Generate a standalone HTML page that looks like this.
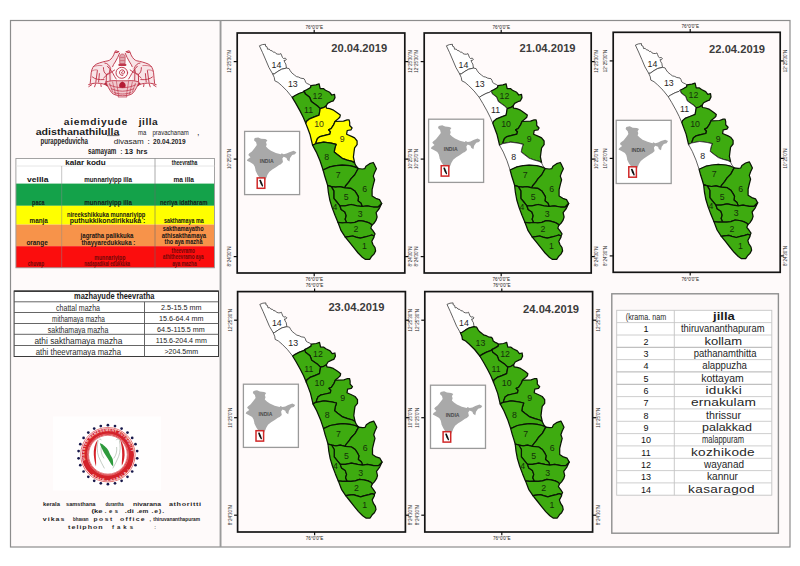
<!DOCTYPE html>
<html><head><meta charset="utf-8"><title>Kerala district rainfall forecast</title>
<style>
html,body{margin:0;padding:0;background:#fff;}
svg{display:block;font-family:"Liberation Sans",sans-serif;}
</style></head><body>
<svg width="800" height="566" viewBox="0 0 800 566">
<defs>
<polygon id="d1" points="108.1,204.1 111.3,203.6 115.6,203.0 118.7,204.1 123.0,205.2 127.2,204.1 131.5,203.0 134.6,202.0 136.8,203.0 136.8,204.1 134.6,208.3 135.7,211.5 137.8,214.7 138.4,217.9 136.8,221.1 134.6,223.2 132.5,226.4 128.3,226.4 125.1,224.2 120.9,220.0 116.6,214.7 112.4,209.4"/>
<polygon id="d2" points="100.7,189.3 105.0,189.8 109.5,189.5 113.4,189.8 117.7,189.3 121.9,187.7 126.2,188.2 130.4,189.3 133.6,190.9 134.6,192.4 133.6,195.1 135.7,197.7 137.8,200.9 136.8,203.0 134.6,202.0 131.5,203.0 127.2,204.1 123.0,205.2 118.7,204.1 115.6,203.0 111.3,203.6 108.1,204.1 103.9,197.7"/>
<polygon id="d3" points="102.7,172.8 107.7,172.8 113.9,171.5 120.0,172.8 125.0,173.5 129.9,172.8 136.1,174.0 141.0,174.0 144.5,170.5 142.1,175.5 138.9,179.7 139.9,184.0 138.9,187.1 136.8,190.3 134.6,192.4 133.6,190.9 130.4,189.3 126.2,188.2 121.9,187.7 117.7,189.3 113.4,189.8 109.5,189.5 108.0,186.2 109.0,182.8 107.7,179.0 104.0,176.5"/>
<polygon id="d4" points="90.4,152.4 94.1,153.6 96.6,157.9 96.6,165.3 99.6,169.0 102.7,172.8 104.0,176.5 107.7,179.0 109.0,182.8 108.0,186.2 109.5,189.5 105.0,189.8 100.7,189.3 97.8,182.3 94.9,174.6 92.6,167.0 91.2,159.5"/>
<polygon id="d5" points="107.7,154.8 113.9,155.4 117.6,157.9 120.0,161.6 121.3,164.1 120.7,167.8 123.8,170.3 125.0,173.5 120.0,172.8 113.9,171.5 107.7,172.8 102.7,172.8 99.6,169.0 96.6,165.3 96.6,157.9 94.1,153.6 98.4,154.2 102.7,153.6"/>
<polygon id="d6" points="121.0,135.5 125.0,136.0 127.5,135.7 128.7,133.2 132.4,130.7 136.1,129.5 137.4,131.9 139.2,135.7 137.4,139.4 136.1,143.1 137.4,146.8 136.1,151.7 134.9,156.7 134.9,162.9 138.6,165.3 142.3,166.6 144.5,170.5 141.0,174.0 136.1,174.0 129.9,172.8 125.0,173.5 123.8,170.3 120.7,167.8 121.3,164.1 120.0,161.6 117.6,157.9 113.9,155.4 107.7,154.8 108.3,153.0 111.4,149.3 113.9,145.6 117.6,141.8"/>
<polygon id="d7" points="85.9,137.0 92.7,133.9 98.9,132.7 105.0,132.1 112.5,132.7 117.4,133.9 121.0,135.5 117.6,141.8 113.9,145.6 111.4,149.3 108.3,153.0 107.7,154.8 102.7,153.6 98.4,154.2 94.1,153.6 90.4,152.4 89.1,148.0 87.5,143.0"/>
<polygon id="d8" points="75.4,112.3 78.5,110.7 86.5,109.2 93.9,110.2 98.9,111.4 97.6,115.4 97.0,119.1 100.1,121.6 105.0,125.3 110.0,127.1 114.9,128.4 117.4,129.9 118.7,132.7 121.0,135.5 117.4,133.9 112.5,132.7 105.0,132.1 98.9,132.7 92.7,133.9 85.9,137.0 82.8,127.8 79.1,119.1"/>
<polygon id="d9" points="97.8,88.5 106.3,88.2 110.0,86.9 111.9,86.9 112.5,89.4 112.5,92.5 114.9,95.0 113.7,96.8 110.0,97.5 109.4,101.2 114.9,103.6 117.4,104.9 119.9,108.0 119.9,111.7 117.4,114.8 116.8,119.1 116.2,124.0 117.4,129.6 114.9,128.4 110.0,127.1 105.0,125.3 100.1,121.6 97.0,119.1 97.6,115.4 98.9,111.4 93.9,110.2 86.5,109.2 78.5,110.7 79.1,108.6 80.3,105.5 82.8,103.6 87.7,102.4 92.7,101.2 93.3,98.7 91.4,96.8 93.9,95.6 96.4,91.9"/>
<polygon id="d10" points="68.7,90.6 69.2,88.5 72.4,85.8 76.6,84.2 81.9,82.1 83.0,75.6 86.2,74.7 88.8,73.1 89.3,75.2 92.5,75.7 95.7,76.8 98.9,78.9 101.0,80.5 103.1,82.1 102.6,84.2 101.0,85.8 98.9,87.4 97.8,88.5 96.4,91.9 93.9,95.6 91.4,96.8 93.3,98.7 92.7,101.2 87.7,102.4 82.8,103.6 80.3,105.5 79.1,108.6 78.5,110.7 75.4,112.3 72.9,101.8 70.3,94.8"/>
<polygon id="d11" points="55.0,64.4 57.5,62.8 61.8,60.5 66.0,59.0 67.0,58.0 67.9,60.7 72.4,64.2 74.1,68.6 80.3,73.0 83.0,75.6 81.9,82.1 76.6,84.2 72.4,85.8 69.2,88.5 68.7,90.6 66.0,84.2 62.8,77.9 58.6,70.4"/>
<polygon id="d12" points="67.0,58.0 70.0,56.5 73.4,54.5 73.7,52.6 78.7,51.9 81.9,50.8 83.0,55.6 86.2,55.6 88.3,57.2 92.5,59.3 94.6,62.0 97.3,61.4 97.8,64.6 96.2,67.8 94.6,68.3 90.4,70.4 88.8,73.1 86.2,74.7 83.0,75.6 80.3,73.0 74.1,68.6 72.4,64.2 67.9,60.7"/>
<polygon id="d13" points="35.5,41.0 37.1,40.9 40.8,38.3 44.5,36.2 49.3,35.1 51.9,35.6 53.0,37.7 54.6,39.9 57.2,42.0 59.3,43.6 61.5,44.1 63.6,45.2 66.8,45.7 67.8,47.3 68.4,49.4 69.9,50.5 72.1,51.5 73.7,52.6 73.4,54.5 70.0,56.5 67.0,58.0 66.0,59.0 61.8,60.5 57.5,62.8 55.0,64.4 49.8,57.9 44.5,52.6 40.8,49.4 37.6,47.8 37.1,44.6"/>
<polygon id="d14" points="22.2,12.8 25.2,11.6 28.3,11.3 28.3,13.2 29.8,13.8 30.4,16.3 32.0,16.0 33.2,17.5 35.0,17.8 36.3,19.3 37.5,19.0 38.8,20.6 40.6,21.2 42.5,21.2 43.7,20.6 44.3,22.1 45.3,24.5 46.2,25.5 48.0,25.2 49.2,26.1 48.3,27.4 46.8,27.4 47.6,29.5 48.6,31.0 49.3,35.1 44.5,36.2 40.8,38.3 37.1,40.9 35.5,41.0 31.8,34.6 28.6,27.1 25.4,19.7"/>
<polygon id="india" points="10.1,6.7 13.6,6.0 16.5,7.4 20.7,7.7 22.8,8.8 21.4,10.9 22.1,13.0 21.4,15.2 23.5,17.3 26.4,19.4 31.3,21.5 36.3,22.9 37.0,21.9 39.1,22.9 41.9,22.2 44.8,20.8 49.0,19.4 51.8,20.8 50.4,22.9 47.6,23.6 45.5,26.5 44.8,30.0 42.6,28.6 41.9,26.5 39.1,25.4 37.7,27.2 38.4,30.7 36.3,32.8 34.5,33.6 31.4,35.8 27.7,38.1 24.6,40.6 22.7,43.7 22.1,45.5 19.0,52.0 17.5,55.0 15.3,46.8 12.8,43.1 11.0,39.4 10.8,37.8 10.1,35.0 8.7,32.8 5.2,30.7 2.3,29.3 3.0,27.9 5.9,25.8 3.7,23.6 4.5,22.2 7.3,20.1 10.1,16.6 12.2,13.7 11.5,10.9 9.4,8.8"/>
</defs>
<rect x="0" y="0" width="800" height="566" fill="#ffffff"/>
<rect x="10.5" y="20.5" width="779.5" height="526.5" fill="#fefafa" stroke="#8c8c8c" stroke-width="1.2"/>
<rect x="219.6" y="20.5" width="1.9" height="526.5" fill="#9a9a9a"/>
<!-- map 20.04.2019 -->
<rect x="237.2" y="33.0" width="167.6" height="240.0" fill="#fffafa" stroke="#141414" stroke-width="1.7"/>
<line x1="314.2" y1="29.8" x2="314.2" y2="33.0" stroke="#111" stroke-width="1.2"/>
<line x1="314.2" y1="273.0" x2="314.2" y2="276.2" stroke="#111" stroke-width="1.2"/>
<text x="314.2" y="28.5" font-size="4.6" fill="#222" text-anchor="middle">76°0'0"E</text>
<text x="314.2" y="281.3" font-size="4.6" fill="#222" text-anchor="middle">76°0'0"E</text>
<line x1="233.7" y1="61.6" x2="237.2" y2="61.6" stroke="#111" stroke-width="1.2"/>
<line x1="404.8" y1="61.6" x2="408.3" y2="61.6" stroke="#111" stroke-width="1.2"/>
<text transform="translate(231.4,61.6) rotate(-90)" font-size="4.5" fill="#2a2a2a" text-anchor="middle">12°25'30"N</text>
<text transform="translate(411.8,61.6) rotate(-90)" font-size="4.5" fill="#2a2a2a" text-anchor="middle">12°25'30"N</text>
<line x1="233.7" y1="159.1" x2="237.2" y2="159.1" stroke="#111" stroke-width="1.2"/>
<line x1="404.8" y1="159.1" x2="408.3" y2="159.1" stroke="#111" stroke-width="1.2"/>
<text transform="translate(231.4,159.1) rotate(-90)" font-size="4.5" fill="#2a2a2a" text-anchor="middle">10°25'0"N</text>
<text transform="translate(411.8,159.1) rotate(-90)" font-size="4.5" fill="#2a2a2a" text-anchor="middle">10°25'0"N</text>
<line x1="233.7" y1="256.6" x2="237.2" y2="256.6" stroke="#111" stroke-width="1.2"/>
<line x1="404.8" y1="256.6" x2="408.3" y2="256.6" stroke="#111" stroke-width="1.2"/>
<text transform="translate(231.4,256.6) rotate(-90)" font-size="4.5" fill="#2a2a2a" text-anchor="middle">8°24'30"N</text>
<text transform="translate(411.8,256.6) rotate(-90)" font-size="4.5" fill="#2a2a2a" text-anchor="middle">8°24'30"N</text>
<g transform="translate(237.2,33.0)">
<text x="94.0" y="18.8" font-size="11.3" font-weight="bold" fill="#3c3c3c" textLength="56" lengthAdjust="spacingAndGlyphs">20.04.2019</text>
<use href="#d14" fill="#ffffff" stroke="#3a3a3a" stroke-width="0.8" stroke-linejoin="round"/>
<use href="#d13" fill="#ffffff" stroke="#3a3a3a" stroke-width="0.8" stroke-linejoin="round"/>
<use href="#d12" fill="#3eab10" stroke="#0a1505" stroke-width="1.25" stroke-linejoin="round"/>
<use href="#d11" fill="#3eab10" stroke="#0a1505" stroke-width="1.25" stroke-linejoin="round"/>
<use href="#d10" fill="#ffff00" stroke="#0a1505" stroke-width="1.25" stroke-linejoin="round"/>
<use href="#d9" fill="#ffff00" stroke="#0a1505" stroke-width="1.25" stroke-linejoin="round"/>
<use href="#d8" fill="#3eab10" stroke="#0a1505" stroke-width="1.25" stroke-linejoin="round"/>
<use href="#d7" fill="#3eab10" stroke="#0a1505" stroke-width="1.25" stroke-linejoin="round"/>
<use href="#d6" fill="#3eab10" stroke="#0a1505" stroke-width="1.25" stroke-linejoin="round"/>
<use href="#d5" fill="#3eab10" stroke="#0a1505" stroke-width="1.25" stroke-linejoin="round"/>
<use href="#d4" fill="#3eab10" stroke="#0a1505" stroke-width="1.25" stroke-linejoin="round"/>
<use href="#d3" fill="#3eab10" stroke="#0a1505" stroke-width="1.25" stroke-linejoin="round"/>
<use href="#d2" fill="#3eab10" stroke="#0a1505" stroke-width="1.25" stroke-linejoin="round"/>
<use href="#d1" fill="#3eab10" stroke="#0a1505" stroke-width="1.25" stroke-linejoin="round"/>
<text x="39.2" y="34.6" font-size="8.8" fill="#1e1e1e" text-anchor="middle">14</text>
<text x="55.6" y="54.2" font-size="8.8" fill="#1e1e1e" text-anchor="middle">13</text>
<text x="80.3" y="65.7" font-size="8.8" fill="#14300a" text-anchor="middle">12</text>
<text x="71.3" y="80.0" font-size="8.8" fill="#14300a" text-anchor="middle">11</text>
<text x="81.9" y="94.3" font-size="8.8" fill="#3a3a10" text-anchor="middle">10</text>
<text x="105.0" y="109.3" font-size="8.8" fill="#3a3a10" text-anchor="middle">9</text>
<text x="89.6" y="126.6" font-size="8.8" fill="#14300a" text-anchor="middle">8</text>
<text x="100.9" y="145.0" font-size="8.8" fill="#14300a" text-anchor="middle">7</text>
<text x="127.5" y="159.3" font-size="8.8" fill="#14300a" text-anchor="middle">6</text>
<text x="108.9" y="167.3" font-size="8.8" fill="#14300a" text-anchor="middle">5</text>
<text x="97.8" y="177.2" font-size="8.8" fill="#14300a" text-anchor="middle">4</text>
<text x="123.0" y="184.0" font-size="8.8" fill="#14300a" text-anchor="middle">3</text>
<text x="118.8" y="199.4" font-size="8.8" fill="#14300a" text-anchor="middle">2</text>
<text x="127.2" y="216.3" font-size="8.8" fill="#14300a" text-anchor="middle">1</text>
<g transform="translate(7.4,98.4)">
<rect x="0" y="0" width="55" height="63.2" fill="#ffffff" stroke="#9a9a9a" stroke-width="1.3"/>
<use href="#india" fill="#a9a9a9"/>
<text x="15.2" y="32.1" font-size="5" font-weight="bold" fill="#4a4a4a" textLength="13.8" lengthAdjust="spacingAndGlyphs">INDIA</text>
<rect x="12.6" y="46.5" width="7.6" height="10.4" fill="#ffffff" stroke="#d02828" stroke-width="1.5"/>
<path d="M14.6,48.6 L16.2,48.4 L17.6,51.5 L18.6,54.6 L17.7,55.4 L15.9,52.4 Z" fill="#111"/>
</g>
</g>
<!-- map 21.04.2019 -->
<rect x="424.2" y="33.0" width="167.0" height="240.0" fill="#fffafa" stroke="#141414" stroke-width="1.7"/>
<line x1="501.2" y1="29.8" x2="501.2" y2="33.0" stroke="#111" stroke-width="1.2"/>
<line x1="501.2" y1="273.0" x2="501.2" y2="276.2" stroke="#111" stroke-width="1.2"/>
<text x="501.2" y="28.5" font-size="4.6" fill="#222" text-anchor="middle">76°0'0"E</text>
<text x="501.2" y="281.3" font-size="4.6" fill="#222" text-anchor="middle">76°0'0"E</text>
<line x1="420.7" y1="61.6" x2="424.2" y2="61.6" stroke="#111" stroke-width="1.2"/>
<line x1="591.2" y1="61.6" x2="594.7" y2="61.6" stroke="#111" stroke-width="1.2"/>
<text transform="translate(418.4,61.6) rotate(-90)" font-size="4.5" fill="#2a2a2a" text-anchor="middle">12°25'30"N</text>
<text transform="translate(598.2,61.6) rotate(-90)" font-size="4.5" fill="#2a2a2a" text-anchor="middle">12°25'30"N</text>
<line x1="420.7" y1="159.1" x2="424.2" y2="159.1" stroke="#111" stroke-width="1.2"/>
<line x1="591.2" y1="159.1" x2="594.7" y2="159.1" stroke="#111" stroke-width="1.2"/>
<text transform="translate(418.4,159.1) rotate(-90)" font-size="4.5" fill="#2a2a2a" text-anchor="middle">10°25'0"N</text>
<text transform="translate(598.2,159.1) rotate(-90)" font-size="4.5" fill="#2a2a2a" text-anchor="middle">10°25'0"N</text>
<line x1="420.7" y1="256.6" x2="424.2" y2="256.6" stroke="#111" stroke-width="1.2"/>
<line x1="591.2" y1="256.6" x2="594.7" y2="256.6" stroke="#111" stroke-width="1.2"/>
<text transform="translate(418.4,256.6) rotate(-90)" font-size="4.5" fill="#2a2a2a" text-anchor="middle">8°24'30"N</text>
<text transform="translate(598.2,256.6) rotate(-90)" font-size="4.5" fill="#2a2a2a" text-anchor="middle">8°24'30"N</text>
<g transform="translate(424.2,33.0)">
<text x="95.4" y="19.3" font-size="11.3" font-weight="bold" fill="#3c3c3c" textLength="56" lengthAdjust="spacingAndGlyphs">21.04.2019</text>
<use href="#d14" fill="#ffffff" stroke="#3a3a3a" stroke-width="0.8" stroke-linejoin="round"/>
<use href="#d13" fill="#ffffff" stroke="#3a3a3a" stroke-width="0.8" stroke-linejoin="round"/>
<use href="#d12" fill="#3eab10" stroke="#0a1505" stroke-width="1.25" stroke-linejoin="round"/>
<use href="#d11" fill="#ffffff" stroke="#3a3a3a" stroke-width="0.8" stroke-linejoin="round"/>
<use href="#d10" fill="#3eab10" stroke="#0a1505" stroke-width="1.25" stroke-linejoin="round"/>
<use href="#d9" fill="#3eab10" stroke="#0a1505" stroke-width="1.25" stroke-linejoin="round"/>
<use href="#d8" fill="#ffffff" stroke="#3a3a3a" stroke-width="0.8" stroke-linejoin="round"/>
<use href="#d7" fill="#3eab10" stroke="#0a1505" stroke-width="1.25" stroke-linejoin="round"/>
<use href="#d6" fill="#3eab10" stroke="#0a1505" stroke-width="1.25" stroke-linejoin="round"/>
<use href="#d5" fill="#3eab10" stroke="#0a1505" stroke-width="1.25" stroke-linejoin="round"/>
<use href="#d4" fill="#3eab10" stroke="#0a1505" stroke-width="1.25" stroke-linejoin="round"/>
<use href="#d3" fill="#3eab10" stroke="#0a1505" stroke-width="1.25" stroke-linejoin="round"/>
<use href="#d2" fill="#3eab10" stroke="#0a1505" stroke-width="1.25" stroke-linejoin="round"/>
<use href="#d1" fill="#3eab10" stroke="#0a1505" stroke-width="1.25" stroke-linejoin="round"/>
<text x="39.2" y="34.6" font-size="8.8" fill="#1e1e1e" text-anchor="middle">14</text>
<text x="55.6" y="54.2" font-size="8.8" fill="#1e1e1e" text-anchor="middle">13</text>
<text x="80.3" y="65.7" font-size="8.8" fill="#14300a" text-anchor="middle">12</text>
<text x="71.3" y="80.0" font-size="8.8" fill="#1e1e1e" text-anchor="middle">11</text>
<text x="81.9" y="94.3" font-size="8.8" fill="#14300a" text-anchor="middle">10</text>
<text x="105.0" y="109.3" font-size="8.8" fill="#14300a" text-anchor="middle">9</text>
<text x="89.6" y="126.6" font-size="8.8" fill="#1e1e1e" text-anchor="middle">8</text>
<text x="100.9" y="145.0" font-size="8.8" fill="#14300a" text-anchor="middle">7</text>
<text x="127.5" y="159.3" font-size="8.8" fill="#14300a" text-anchor="middle">6</text>
<text x="108.9" y="167.3" font-size="8.8" fill="#14300a" text-anchor="middle">5</text>
<text x="97.8" y="177.2" font-size="8.8" fill="#14300a" text-anchor="middle">4</text>
<text x="123.0" y="184.0" font-size="8.8" fill="#14300a" text-anchor="middle">3</text>
<text x="118.8" y="199.4" font-size="8.8" fill="#14300a" text-anchor="middle">2</text>
<text x="127.2" y="216.3" font-size="8.8" fill="#14300a" text-anchor="middle">1</text>
<g transform="translate(4.4,86.2)">
<rect x="0" y="0" width="55" height="63.2" fill="#ffffff" stroke="#9a9a9a" stroke-width="1.3"/>
<use href="#india" fill="#a9a9a9"/>
<text x="15.2" y="32.1" font-size="5" font-weight="bold" fill="#4a4a4a" textLength="13.8" lengthAdjust="spacingAndGlyphs">INDIA</text>
<rect x="12.6" y="46.5" width="7.6" height="10.4" fill="#ffffff" stroke="#d02828" stroke-width="1.5"/>
<path d="M14.6,48.6 L16.2,48.4 L17.6,51.5 L18.6,54.6 L17.7,55.4 L15.9,52.4 Z" fill="#111"/>
</g>
</g>
<!-- map 22.04.2019 -->
<rect x="613.2" y="32.3" width="167.0" height="240.0" fill="#fffafa" stroke="#141414" stroke-width="1.7"/>
<line x1="690.2" y1="29.1" x2="690.2" y2="32.3" stroke="#111" stroke-width="1.2"/>
<line x1="690.2" y1="272.3" x2="690.2" y2="275.5" stroke="#111" stroke-width="1.2"/>
<text x="690.2" y="27.8" font-size="4.6" fill="#222" text-anchor="middle">76°0'0"E</text>
<text x="690.2" y="280.6" font-size="4.6" fill="#222" text-anchor="middle">76°0'0"E</text>
<line x1="609.7" y1="60.9" x2="613.2" y2="60.9" stroke="#111" stroke-width="1.2"/>
<line x1="780.2" y1="60.9" x2="783.7" y2="60.9" stroke="#111" stroke-width="1.2"/>
<text transform="translate(607.4,60.9) rotate(-90)" font-size="4.5" fill="#2a2a2a" text-anchor="middle">12°25'30"N</text>
<text transform="translate(787.2,60.9) rotate(-90)" font-size="4.5" fill="#2a2a2a" text-anchor="middle">12°25'30"N</text>
<line x1="609.7" y1="158.4" x2="613.2" y2="158.4" stroke="#111" stroke-width="1.2"/>
<line x1="780.2" y1="158.4" x2="783.7" y2="158.4" stroke="#111" stroke-width="1.2"/>
<text transform="translate(607.4,158.4) rotate(-90)" font-size="4.5" fill="#2a2a2a" text-anchor="middle">10°25'0"N</text>
<text transform="translate(787.2,158.4) rotate(-90)" font-size="4.5" fill="#2a2a2a" text-anchor="middle">10°25'0"N</text>
<line x1="609.7" y1="255.9" x2="613.2" y2="255.9" stroke="#111" stroke-width="1.2"/>
<line x1="780.2" y1="255.9" x2="783.7" y2="255.9" stroke="#111" stroke-width="1.2"/>
<text transform="translate(607.4,255.9) rotate(-90)" font-size="4.5" fill="#2a2a2a" text-anchor="middle">8°24'30"N</text>
<text transform="translate(787.2,255.9) rotate(-90)" font-size="4.5" fill="#2a2a2a" text-anchor="middle">8°24'30"N</text>
<g transform="translate(613.2,32.3)">
<text x="95.9" y="21.0" font-size="11.3" font-weight="bold" fill="#3c3c3c" textLength="56" lengthAdjust="spacingAndGlyphs">22.04.2019</text>
<use href="#d14" fill="#ffffff" stroke="#3a3a3a" stroke-width="0.8" stroke-linejoin="round"/>
<use href="#d13" fill="#ffffff" stroke="#3a3a3a" stroke-width="0.8" stroke-linejoin="round"/>
<use href="#d12" fill="#3eab10" stroke="#0a1505" stroke-width="1.25" stroke-linejoin="round"/>
<use href="#d11" fill="#ffffff" stroke="#3a3a3a" stroke-width="0.8" stroke-linejoin="round"/>
<use href="#d10" fill="#3eab10" stroke="#0a1505" stroke-width="1.25" stroke-linejoin="round"/>
<use href="#d9" fill="#3eab10" stroke="#0a1505" stroke-width="1.25" stroke-linejoin="round"/>
<use href="#d8" fill="#ffffff" stroke="#3a3a3a" stroke-width="0.8" stroke-linejoin="round"/>
<use href="#d7" fill="#3eab10" stroke="#0a1505" stroke-width="1.25" stroke-linejoin="round"/>
<use href="#d6" fill="#3eab10" stroke="#0a1505" stroke-width="1.25" stroke-linejoin="round"/>
<use href="#d5" fill="#3eab10" stroke="#0a1505" stroke-width="1.25" stroke-linejoin="round"/>
<use href="#d4" fill="#3eab10" stroke="#0a1505" stroke-width="1.25" stroke-linejoin="round"/>
<use href="#d3" fill="#3eab10" stroke="#0a1505" stroke-width="1.25" stroke-linejoin="round"/>
<use href="#d2" fill="#3eab10" stroke="#0a1505" stroke-width="1.25" stroke-linejoin="round"/>
<use href="#d1" fill="#3eab10" stroke="#0a1505" stroke-width="1.25" stroke-linejoin="round"/>
<text x="39.2" y="34.6" font-size="8.8" fill="#1e1e1e" text-anchor="middle">14</text>
<text x="55.6" y="54.2" font-size="8.8" fill="#1e1e1e" text-anchor="middle">13</text>
<text x="80.3" y="65.7" font-size="8.8" fill="#14300a" text-anchor="middle">12</text>
<text x="71.3" y="80.0" font-size="8.8" fill="#1e1e1e" text-anchor="middle">11</text>
<text x="81.9" y="94.3" font-size="8.8" fill="#14300a" text-anchor="middle">10</text>
<text x="105.0" y="109.3" font-size="8.8" fill="#14300a" text-anchor="middle">9</text>
<text x="89.6" y="126.6" font-size="8.8" fill="#1e1e1e" text-anchor="middle">8</text>
<text x="100.9" y="145.0" font-size="8.8" fill="#14300a" text-anchor="middle">7</text>
<text x="127.5" y="159.3" font-size="8.8" fill="#14300a" text-anchor="middle">6</text>
<text x="108.9" y="167.3" font-size="8.8" fill="#14300a" text-anchor="middle">5</text>
<text x="97.8" y="177.2" font-size="8.8" fill="#14300a" text-anchor="middle">4</text>
<text x="123.0" y="184.0" font-size="8.8" fill="#14300a" text-anchor="middle">3</text>
<text x="118.8" y="199.4" font-size="8.8" fill="#14300a" text-anchor="middle">2</text>
<text x="127.2" y="216.3" font-size="8.8" fill="#14300a" text-anchor="middle">1</text>
<g transform="translate(3.0,88.0)">
<rect x="0" y="0" width="55" height="63.2" fill="#ffffff" stroke="#9a9a9a" stroke-width="1.3"/>
<use href="#india" fill="#a9a9a9"/>
<text x="15.2" y="32.1" font-size="5" font-weight="bold" fill="#4a4a4a" textLength="13.8" lengthAdjust="spacingAndGlyphs">INDIA</text>
<rect x="12.6" y="46.5" width="7.6" height="10.4" fill="#ffffff" stroke="#d02828" stroke-width="1.5"/>
<path d="M14.6,48.6 L16.2,48.4 L17.6,51.5 L18.6,54.6 L17.7,55.4 L15.9,52.4 Z" fill="#111"/>
</g>
</g>
<!-- map 23.04.2019 -->
<rect x="237.6" y="291.6" width="167.8" height="240.4" fill="#fffafa" stroke="#141414" stroke-width="1.7"/>
<line x1="314.6" y1="288.4" x2="314.6" y2="291.6" stroke="#111" stroke-width="1.2"/>
<line x1="314.6" y1="532.0" x2="314.6" y2="535.2" stroke="#111" stroke-width="1.2"/>
<text x="314.6" y="287.1" font-size="4.6" fill="#222" text-anchor="middle">76°0'0"E</text>
<text x="314.6" y="540.3" font-size="4.6" fill="#222" text-anchor="middle">76°0'0"E</text>
<line x1="234.1" y1="320.2" x2="237.6" y2="320.2" stroke="#111" stroke-width="1.2"/>
<line x1="405.4" y1="320.2" x2="408.9" y2="320.2" stroke="#111" stroke-width="1.2"/>
<text transform="translate(231.8,320.2) rotate(-90)" font-size="4.5" fill="#2a2a2a" text-anchor="middle">12°25'30"N</text>
<text transform="translate(412.4,320.2) rotate(-90)" font-size="4.5" fill="#2a2a2a" text-anchor="middle">12°25'30"N</text>
<line x1="234.1" y1="417.7" x2="237.6" y2="417.7" stroke="#111" stroke-width="1.2"/>
<line x1="405.4" y1="417.7" x2="408.9" y2="417.7" stroke="#111" stroke-width="1.2"/>
<text transform="translate(231.8,417.7) rotate(-90)" font-size="4.5" fill="#2a2a2a" text-anchor="middle">10°25'0"N</text>
<text transform="translate(412.4,417.7) rotate(-90)" font-size="4.5" fill="#2a2a2a" text-anchor="middle">10°25'0"N</text>
<line x1="234.1" y1="515.2" x2="237.6" y2="515.2" stroke="#111" stroke-width="1.2"/>
<line x1="405.4" y1="515.2" x2="408.9" y2="515.2" stroke="#111" stroke-width="1.2"/>
<text transform="translate(231.8,515.2) rotate(-90)" font-size="4.5" fill="#2a2a2a" text-anchor="middle">8°24'30"N</text>
<text transform="translate(412.4,515.2) rotate(-90)" font-size="4.5" fill="#2a2a2a" text-anchor="middle">8°24'30"N</text>
<g transform="translate(237.6,291.6)">
<text x="90.8" y="19.3" font-size="11.3" font-weight="bold" fill="#3c3c3c" textLength="56" lengthAdjust="spacingAndGlyphs">23.04.2019</text>
<use href="#d14" fill="#ffffff" stroke="#3a3a3a" stroke-width="0.8" stroke-linejoin="round"/>
<use href="#d13" fill="#ffffff" stroke="#3a3a3a" stroke-width="0.8" stroke-linejoin="round"/>
<use href="#d12" fill="#3eab10" stroke="#0a1505" stroke-width="1.25" stroke-linejoin="round"/>
<use href="#d11" fill="#3eab10" stroke="#0a1505" stroke-width="1.25" stroke-linejoin="round"/>
<use href="#d10" fill="#3eab10" stroke="#0a1505" stroke-width="1.25" stroke-linejoin="round"/>
<use href="#d9" fill="#3eab10" stroke="#0a1505" stroke-width="1.25" stroke-linejoin="round"/>
<use href="#d8" fill="#3eab10" stroke="#0a1505" stroke-width="1.25" stroke-linejoin="round"/>
<use href="#d7" fill="#3eab10" stroke="#0a1505" stroke-width="1.25" stroke-linejoin="round"/>
<use href="#d6" fill="#3eab10" stroke="#0a1505" stroke-width="1.25" stroke-linejoin="round"/>
<use href="#d5" fill="#3eab10" stroke="#0a1505" stroke-width="1.25" stroke-linejoin="round"/>
<use href="#d4" fill="#3eab10" stroke="#0a1505" stroke-width="1.25" stroke-linejoin="round"/>
<use href="#d3" fill="#3eab10" stroke="#0a1505" stroke-width="1.25" stroke-linejoin="round"/>
<use href="#d2" fill="#3eab10" stroke="#0a1505" stroke-width="1.25" stroke-linejoin="round"/>
<use href="#d1" fill="#3eab10" stroke="#0a1505" stroke-width="1.25" stroke-linejoin="round"/>
<text x="39.2" y="34.6" font-size="8.8" fill="#1e1e1e" text-anchor="middle">14</text>
<text x="55.6" y="54.2" font-size="8.8" fill="#1e1e1e" text-anchor="middle">13</text>
<text x="80.3" y="65.7" font-size="8.8" fill="#14300a" text-anchor="middle">12</text>
<text x="71.3" y="80.0" font-size="8.8" fill="#14300a" text-anchor="middle">11</text>
<text x="81.9" y="94.3" font-size="8.8" fill="#14300a" text-anchor="middle">10</text>
<text x="105.0" y="109.3" font-size="8.8" fill="#14300a" text-anchor="middle">9</text>
<text x="89.6" y="126.6" font-size="8.8" fill="#14300a" text-anchor="middle">8</text>
<text x="100.9" y="145.0" font-size="8.8" fill="#14300a" text-anchor="middle">7</text>
<text x="127.5" y="159.3" font-size="8.8" fill="#14300a" text-anchor="middle">6</text>
<text x="108.9" y="167.3" font-size="8.8" fill="#14300a" text-anchor="middle">5</text>
<text x="97.8" y="177.2" font-size="8.8" fill="#14300a" text-anchor="middle">4</text>
<text x="123.0" y="184.0" font-size="8.8" fill="#14300a" text-anchor="middle">3</text>
<text x="118.8" y="199.4" font-size="8.8" fill="#14300a" text-anchor="middle">2</text>
<text x="127.2" y="216.3" font-size="8.8" fill="#14300a" text-anchor="middle">1</text>
<g transform="translate(5.8,92.6)">
<rect x="0" y="0" width="55" height="63.2" fill="#ffffff" stroke="#9a9a9a" stroke-width="1.3"/>
<use href="#india" fill="#a9a9a9"/>
<text x="15.2" y="32.1" font-size="5" font-weight="bold" fill="#4a4a4a" textLength="13.8" lengthAdjust="spacingAndGlyphs">INDIA</text>
<rect x="12.6" y="46.5" width="7.6" height="10.4" fill="#ffffff" stroke="#d02828" stroke-width="1.5"/>
<path d="M14.6,48.6 L16.2,48.4 L17.6,51.5 L18.6,54.6 L17.7,55.4 L15.9,52.4 Z" fill="#111"/>
</g>
</g>
<!-- map 24.04.2019 -->
<rect x="424.8" y="291.6" width="167.8" height="240.4" fill="#fffafa" stroke="#141414" stroke-width="1.7"/>
<line x1="501.8" y1="288.4" x2="501.8" y2="291.6" stroke="#111" stroke-width="1.2"/>
<line x1="501.8" y1="532.0" x2="501.8" y2="535.2" stroke="#111" stroke-width="1.2"/>
<text x="501.8" y="287.1" font-size="4.6" fill="#222" text-anchor="middle">76°0'0"E</text>
<text x="501.8" y="540.3" font-size="4.6" fill="#222" text-anchor="middle">76°0'0"E</text>
<line x1="421.3" y1="320.2" x2="424.8" y2="320.2" stroke="#111" stroke-width="1.2"/>
<line x1="592.6" y1="320.2" x2="596.1" y2="320.2" stroke="#111" stroke-width="1.2"/>
<text transform="translate(419.0,320.2) rotate(-90)" font-size="4.5" fill="#2a2a2a" text-anchor="middle">12°25'30"N</text>
<text transform="translate(599.6,320.2) rotate(-90)" font-size="4.5" fill="#2a2a2a" text-anchor="middle">12°25'30"N</text>
<line x1="421.3" y1="417.7" x2="424.8" y2="417.7" stroke="#111" stroke-width="1.2"/>
<line x1="592.6" y1="417.7" x2="596.1" y2="417.7" stroke="#111" stroke-width="1.2"/>
<text transform="translate(419.0,417.7) rotate(-90)" font-size="4.5" fill="#2a2a2a" text-anchor="middle">10°25'0"N</text>
<text transform="translate(599.6,417.7) rotate(-90)" font-size="4.5" fill="#2a2a2a" text-anchor="middle">10°25'0"N</text>
<line x1="421.3" y1="515.2" x2="424.8" y2="515.2" stroke="#111" stroke-width="1.2"/>
<line x1="592.6" y1="515.2" x2="596.1" y2="515.2" stroke="#111" stroke-width="1.2"/>
<text transform="translate(419.0,515.2) rotate(-90)" font-size="4.5" fill="#2a2a2a" text-anchor="middle">8°24'30"N</text>
<text transform="translate(599.6,515.2) rotate(-90)" font-size="4.5" fill="#2a2a2a" text-anchor="middle">8°24'30"N</text>
<g transform="translate(424.8,291.6)">
<text x="98.3" y="21.3" font-size="11.3" font-weight="bold" fill="#3c3c3c" textLength="56" lengthAdjust="spacingAndGlyphs">24.04.2019</text>
<use href="#d14" fill="#ffffff" stroke="#3a3a3a" stroke-width="0.8" stroke-linejoin="round"/>
<use href="#d13" fill="#3eab10" stroke="#0a1505" stroke-width="1.25" stroke-linejoin="round"/>
<use href="#d12" fill="#3eab10" stroke="#0a1505" stroke-width="1.25" stroke-linejoin="round"/>
<use href="#d11" fill="#3eab10" stroke="#0a1505" stroke-width="1.25" stroke-linejoin="round"/>
<use href="#d10" fill="#3eab10" stroke="#0a1505" stroke-width="1.25" stroke-linejoin="round"/>
<use href="#d9" fill="#3eab10" stroke="#0a1505" stroke-width="1.25" stroke-linejoin="round"/>
<use href="#d8" fill="#3eab10" stroke="#0a1505" stroke-width="1.25" stroke-linejoin="round"/>
<use href="#d7" fill="#3eab10" stroke="#0a1505" stroke-width="1.25" stroke-linejoin="round"/>
<use href="#d6" fill="#3eab10" stroke="#0a1505" stroke-width="1.25" stroke-linejoin="round"/>
<use href="#d5" fill="#3eab10" stroke="#0a1505" stroke-width="1.25" stroke-linejoin="round"/>
<use href="#d4" fill="#3eab10" stroke="#0a1505" stroke-width="1.25" stroke-linejoin="round"/>
<use href="#d3" fill="#3eab10" stroke="#0a1505" stroke-width="1.25" stroke-linejoin="round"/>
<use href="#d2" fill="#3eab10" stroke="#0a1505" stroke-width="1.25" stroke-linejoin="round"/>
<use href="#d1" fill="#3eab10" stroke="#0a1505" stroke-width="1.25" stroke-linejoin="round"/>
<text x="39.2" y="34.6" font-size="8.8" fill="#1e1e1e" text-anchor="middle">14</text>
<text x="55.6" y="54.2" font-size="8.8" fill="#14300a" text-anchor="middle">13</text>
<text x="80.3" y="65.7" font-size="8.8" fill="#14300a" text-anchor="middle">12</text>
<text x="71.3" y="80.0" font-size="8.8" fill="#14300a" text-anchor="middle">11</text>
<text x="81.9" y="94.3" font-size="8.8" fill="#14300a" text-anchor="middle">10</text>
<text x="105.0" y="109.3" font-size="8.8" fill="#14300a" text-anchor="middle">9</text>
<text x="89.6" y="126.6" font-size="8.8" fill="#14300a" text-anchor="middle">8</text>
<text x="100.9" y="145.0" font-size="8.8" fill="#14300a" text-anchor="middle">7</text>
<text x="127.5" y="159.3" font-size="8.8" fill="#14300a" text-anchor="middle">6</text>
<text x="108.9" y="167.3" font-size="8.8" fill="#14300a" text-anchor="middle">5</text>
<text x="97.8" y="177.2" font-size="8.8" fill="#14300a" text-anchor="middle">4</text>
<text x="123.0" y="184.0" font-size="8.8" fill="#14300a" text-anchor="middle">3</text>
<text x="118.8" y="199.4" font-size="8.8" fill="#14300a" text-anchor="middle">2</text>
<text x="127.2" y="216.3" font-size="8.8" fill="#14300a" text-anchor="middle">1</text>
<g transform="translate(5.7,93.6)">
<rect x="0" y="0" width="55" height="63.2" fill="#ffffff" stroke="#9a9a9a" stroke-width="1.3"/>
<use href="#india" fill="#a9a9a9"/>
<text x="15.2" y="32.1" font-size="5" font-weight="bold" fill="#4a4a4a" textLength="13.8" lengthAdjust="spacingAndGlyphs">INDIA</text>
<rect x="12.6" y="46.5" width="7.6" height="10.4" fill="#ffffff" stroke="#d02828" stroke-width="1.5"/>
<path d="M14.6,48.6 L16.2,48.4 L17.6,51.5 L18.6,54.6 L17.7,55.4 L15.9,52.4 Z" fill="#111"/>
</g>
</g>
<rect x="611.8" y="293.8" width="166.6" height="239.4" fill="#fdf9f9" stroke="#8e8e8e" stroke-width="1.4"/>
<rect x="616.7" y="310.3" width="155.1" height="184.9" fill="#ffffff" stroke="#c4c4c4" stroke-width="0.9"/>
<line x1="616.7" y1="322.6" x2="771.8" y2="322.6" stroke="#c8c8c8" stroke-width="0.9"/>
<line x1="616.7" y1="335.0" x2="771.8" y2="335.0" stroke="#c8c8c8" stroke-width="0.9"/>
<line x1="616.7" y1="347.3" x2="771.8" y2="347.3" stroke="#a8a8a8" stroke-width="0.9"/>
<line x1="616.7" y1="359.6" x2="771.8" y2="359.6" stroke="#c8c8c8" stroke-width="0.9"/>
<line x1="616.7" y1="371.9" x2="771.8" y2="371.9" stroke="#a8a8a8" stroke-width="0.9"/>
<line x1="616.7" y1="384.3" x2="771.8" y2="384.3" stroke="#a8a8a8" stroke-width="0.9"/>
<line x1="616.7" y1="396.6" x2="771.8" y2="396.6" stroke="#c8c8c8" stroke-width="0.9"/>
<line x1="616.7" y1="408.9" x2="771.8" y2="408.9" stroke="#c8c8c8" stroke-width="0.9"/>
<line x1="616.7" y1="421.3" x2="771.8" y2="421.3" stroke="#c8c8c8" stroke-width="0.9"/>
<line x1="616.7" y1="433.6" x2="771.8" y2="433.6" stroke="#c8c8c8" stroke-width="0.9"/>
<line x1="616.7" y1="445.9" x2="771.8" y2="445.9" stroke="#c8c8c8" stroke-width="0.9"/>
<line x1="616.7" y1="458.3" x2="771.8" y2="458.3" stroke="#c8c8c8" stroke-width="0.9"/>
<line x1="616.7" y1="470.6" x2="771.8" y2="470.6" stroke="#c8c8c8" stroke-width="0.9"/>
<line x1="616.7" y1="482.9" x2="771.8" y2="482.9" stroke="#c8c8c8" stroke-width="0.9"/>
<line x1="674.3" y1="310.3" x2="674.3" y2="495.2" stroke="#c4c4c4" stroke-width="0.9"/>
<text x="625.8" y="319.9" font-size="9.5" font-weight="normal" fill="#2a2a2a" text-anchor="start" textLength="40.4" lengthAdjust="spacingAndGlyphs">(krama. nam</text>
<text x="713.0" y="319.9" font-size="10" font-weight="bold" fill="#1a1a1a" text-anchor="start" letter-spacing="0.03" textLength="21.8" lengthAdjust="spacingAndGlyphs">jilla</text>
<text x="646" y="332.2" font-size="9" fill="#111" text-anchor="middle">1</text>
<text x="681.0" y="332.2" font-size="10.6" font-weight="normal" fill="#262626" text-anchor="start" textLength="83.5" lengthAdjust="spacingAndGlyphs">thiruvananthapuram</text>
<text x="646" y="344.6" font-size="9" fill="#111" text-anchor="middle">2</text>
<text x="704.4" y="344.6" font-size="10.6" font-weight="normal" fill="#262626" text-anchor="start" letter-spacing="0.00" textLength="37.6" lengthAdjust="spacingAndGlyphs">kollam</text>
<text x="646" y="356.9" font-size="9" fill="#111" text-anchor="middle">3</text>
<text x="693.8" y="356.9" font-size="10.6" font-weight="normal" fill="#262626" text-anchor="start" textLength="62.7" lengthAdjust="spacingAndGlyphs">pathanamthitta</text>
<text x="646" y="369.2" font-size="9" fill="#111" text-anchor="middle">4</text>
<text x="702.3" y="369.2" font-size="10.6" font-weight="normal" fill="#262626" text-anchor="start" textLength="44.6" lengthAdjust="spacingAndGlyphs">alappuzha</text>
<text x="646" y="381.6" font-size="9" fill="#111" text-anchor="middle">5</text>
<text x="701.2" y="381.6" font-size="10.6" font-weight="normal" fill="#262626" text-anchor="start" textLength="42.5" lengthAdjust="spacingAndGlyphs">kottayam</text>
<text x="646" y="393.9" font-size="9" fill="#111" text-anchor="middle">6</text>
<text x="705.5" y="393.9" font-size="10.6" font-weight="normal" fill="#262626" text-anchor="start" letter-spacing="0.25" textLength="36.5" lengthAdjust="spacingAndGlyphs">idukki</text>
<text x="646" y="406.2" font-size="9" fill="#111" text-anchor="middle">7</text>
<text x="691.0" y="406.2" font-size="10.6" font-weight="normal" fill="#262626" text-anchor="start" letter-spacing="0.08" textLength="65.0" lengthAdjust="spacingAndGlyphs">ernakulam</text>
<text x="646" y="418.5" font-size="9" fill="#111" text-anchor="middle">8</text>
<text x="706.0" y="418.5" font-size="10.6" font-weight="normal" fill="#262626" text-anchor="start" letter-spacing="0.00" textLength="35.0" lengthAdjust="spacingAndGlyphs">thrissur</text>
<text x="646" y="430.9" font-size="9" fill="#111" text-anchor="middle">9</text>
<text x="702.0" y="430.9" font-size="10.6" font-weight="normal" fill="#262626" text-anchor="start" letter-spacing="0.00" textLength="50.0" lengthAdjust="spacingAndGlyphs">palakkad</text>
<text x="646" y="443.2" font-size="9" fill="#111" text-anchor="middle">10</text>
<text x="702.0" y="443.2" font-size="10.6" font-weight="normal" fill="#262626" text-anchor="start" textLength="42.0" lengthAdjust="spacingAndGlyphs">malappuram</text>
<text x="646" y="455.5" font-size="9" fill="#111" text-anchor="middle">11</text>
<text x="691.0" y="455.5" font-size="10.6" font-weight="normal" fill="#262626" text-anchor="start" letter-spacing="0.24" textLength="64.0" lengthAdjust="spacingAndGlyphs">kozhikode</text>
<text x="646" y="467.9" font-size="9" fill="#111" text-anchor="middle">12</text>
<text x="704.0" y="467.9" font-size="10.6" font-weight="normal" fill="#262626" text-anchor="start" textLength="40.0" lengthAdjust="spacingAndGlyphs">wayanad</text>
<text x="646" y="480.2" font-size="9" fill="#111" text-anchor="middle">13</text>
<text x="707.0" y="480.2" font-size="10.6" font-weight="normal" fill="#262626" text-anchor="start" textLength="31.0" lengthAdjust="spacingAndGlyphs">kannur</text>
<text x="646" y="492.5" font-size="9" fill="#111" text-anchor="middle">14</text>
<text x="688.0" y="492.5" font-size="10.6" font-weight="normal" fill="#262626" text-anchor="start" letter-spacing="0.33" textLength="67.0" lengthAdjust="spacingAndGlyphs">kasaragod</text>
<g id="emblem" fill="none" stroke="#c0374b" stroke-width="0.95" stroke-linecap="round" stroke-linejoin="round">
<g id="eleL">
<path d="M117.4,51.2 C116,50.2 114.8,51 114.5,52.6 C114.1,54.8 112.6,57.2 111,59 C110,60 109,60.6 108,60.8 C104.5,61.4 100.5,62.4 96.6,64 C93.2,65.8 91.8,68.6 91.2,72.8 C90.8,76.8 90.6,80.4 90.2,83.4 L100.4,83.4 C104,83.8 106.6,85 109.2,87 L112.6,82 L112.6,66.6 C113,65.2 114,63.8 115.2,62 C117,59.2 118.4,56 119.6,53.2 Z" fill="#f8e4e7" stroke="none"/>
<path d="M117.4,51.2 C116,50.2 114.8,51 114.5,52.6 C114.1,54.8 112.6,57.2 111,59 C110,60 109,60.6 108,60.8 C104.5,61.4 100.5,62.4 96.6,64 C93.2,65.8 91.8,68.6 91.2,72.8 C90.8,76.8 90.6,80.4 90.2,83.4"/>
<path d="M119.6,53.2 C118.4,56 117,59.2 115.2,62 C114,63.8 113,65.2 112.6,66.6"/>
<path d="M88.6,84.6 C92,83.2 96.2,82.9 100.4,83.4 C104,83.8 106.6,85 109.2,87"/>
<path d="M104.8,63 C107.4,63.2 109.6,65.4 110.6,68.6 C110.6,71.4 109,73.6 106.6,74.4 C104.4,73.6 103.4,70.8 103.4,67.6"/>
<path d="M97.4,70.6 L95.8,82.4 M99.4,73.6 L98.6,82 M106.4,74.4 L106.2,83.2 M109.8,69.8 L110.2,82.6"/>
<path d="M92.4,77 C95,79.2 99,80 104,79.6"/>
<path d="M107.4,66.2 C110.6,69.6 113,73 114.4,76.2 L116.2,79 M103.6,78 C106,75.6 108.6,73.6 110.8,72.6 C112.2,71.6 113.4,70.8 114.6,70"/>
<path d="M91.6,84.8 L88.8,86.6 M95.4,84.4 L94.6,86.8 M100.8,84.2 L101.2,86.6"/>
<path d="M115.4,52.2 C116.4,52.6 117.6,52.4 118.6,51.6" stroke-width="1.3"/>
<path d="M93.2,66.6 C96,65.6 99,65.2 102,65.6 M92,71 C93.6,70 95.4,69.6 97.2,70" stroke-width="0.6"/>
<path d="M104,83.6 C105.8,82.4 107.6,82.2 108.6,83.6 L107.2,86.6 Z" fill="#b52a40" stroke="none"/>
</g>
<use href="#eleL" transform="translate(244.8,0) scale(-1,1)"/>
<path d="M119.8,63.2 L119.6,57.2 C119.6,55 121,54 122.4,54 C123.8,54 125.2,55 125.2,57.2 L125,63.2 Z" fill="#dfa9b0" stroke="#c0374b" stroke-width="0.7"/>
<path d="M120.6,57.4 L124.2,57.4 M120.6,60.6 L124.2,60.6" stroke-width="0.5"/>
<rect x="118.4" y="63.8" width="8" height="2.2" rx="1" fill="#c0374b" stroke="none"/>
<ellipse cx="121.8" cy="72.8" rx="5.8" ry="5.5"/>
<path d="M122.8,75.4 C119.4,75.6 118.8,72.2 120.3,70.6 C121.8,69.2 124.6,69.8 124.6,72.2 C124.6,73.9 122.6,74.4 121.7,73.3 C121.1,72.4 122,71.3 122.9,71.8" stroke-width="1"/>
<path d="M106,82 C110,80.6 114,80.4 118,80.8 L127,80.8 C131,80.4 135,80.6 139,82 C137.6,86 135.6,89.6 133.4,92.6 C131.6,94.8 128,95.8 122.5,95.8 C117,95.8 113.4,94.8 111.6,92.6 C109.4,89.6 107.4,86 106,82 Z" fill="#f0c9ce" stroke-width="0.9"/>
<path d="M109.2,84.8 C113,86.6 117.6,87.6 122.5,87.8 C127.4,87.6 132,86.6 135.8,84.8 M111.4,88.8 C115,90.4 118.8,91 122.5,91.2 C126.2,91 130,90.4 133.6,88.8 M114.2,92.6 C117,93.6 120,94 122.5,94 C125,94 128,93.6 130.8,92.6" stroke-width="0.75"/>
<path d="M112.6,82 L115.6,94.4 M116.4,81.4 L118.6,95.4 M128.6,81.4 L126.4,95.4 M132.4,82 L129.4,94.4 M109.6,83.4 L112.6,92 M135.4,83.4 L132.4,92" stroke-width="0.6"/>
<path d="M119.4,87 C118.6,84.6 119.6,82.4 122.4,81.4 C125.2,82.4 126.2,84.6 125.4,87 C124.6,88.2 120.2,88.2 119.4,87 Z" fill="#b41c34" stroke="none"/>
<path d="M118.5,95.8 L118,97 L127,97 L126.5,95.8" stroke-width="0.7"/>
</g>
<text x="63.7" y="124.5" font-size="8.2" font-weight="bold" fill="#1c1c1c" text-anchor="start" letter-spacing="0.64" textLength="64.4" lengthAdjust="spacingAndGlyphs">aiemdiyude</text>
<text x="138.8" y="124.5" font-size="8.2" font-weight="bold" fill="#1c1c1c" text-anchor="start" letter-spacing="0.41" textLength="19.4" lengthAdjust="spacingAndGlyphs">jilla</text>
<text x="35.7" y="134.5" font-size="8.2" font-weight="bold" fill="#1c1c1c" text-anchor="start" letter-spacing="0.00" textLength="83.7" lengthAdjust="spacingAndGlyphs">adisthanathilulla</text>
<line x1="107" y1="135.6" x2="119.4" y2="135.6" stroke="#333" stroke-width="0.7"/>
<text x="138.1" y="134.5" font-size="8" font-weight="normal" fill="#222" text-anchor="start" textLength="8.2" lengthAdjust="spacingAndGlyphs">ma</text>
<text x="152.5" y="134.5" font-size="8" font-weight="normal" fill="#222" text-anchor="start" textLength="36.3" lengthAdjust="spacingAndGlyphs">pravachanam</text>
<text x="197.6" y="134.5" font-size="8" font-weight="bold" fill="#222" text-anchor="start" textLength="1.5" lengthAdjust="spacingAndGlyphs">,</text>
<text x="40.4" y="143.9" font-size="8.2" font-weight="bold" fill="#1c1c1c" text-anchor="start" textLength="47.6" lengthAdjust="spacingAndGlyphs">purappeduvicha</text>
<text x="113.8" y="143.9" font-size="8" font-weight="normal" fill="#222" text-anchor="start" letter-spacing="0.00" textLength="30.0" lengthAdjust="spacingAndGlyphs">divasam</text>
<text x="147.8" y="143.9" font-size="7" font-weight="bold" fill="#222" text-anchor="start" textLength="1.8" lengthAdjust="spacingAndGlyphs">:</text>
<text x="153.1" y="143.9" font-size="6.3" font-weight="bold" fill="#1c1c1c" text-anchor="start" letter-spacing="0.00" textLength="32.5" lengthAdjust="spacingAndGlyphs">20.04.2019</text>
<text x="88.0" y="153.9" font-size="8.2" font-weight="bold" fill="#1c1c1c" text-anchor="start" textLength="28.4" lengthAdjust="spacingAndGlyphs">samayam</text>
<text x="120.4" y="153.9" font-size="7" font-weight="bold" fill="#222" text-anchor="start" textLength="1.8" lengthAdjust="spacingAndGlyphs">:</text>
<text x="124.4" y="153.9" font-size="7.6" font-weight="bold" fill="#1c1c1c" text-anchor="start" letter-spacing="0.00" textLength="8.7" lengthAdjust="spacingAndGlyphs">13</text>
<text x="136.2" y="153.9" font-size="7.6" font-weight="bold" fill="#1c1c1c" text-anchor="start" textLength="11.2" lengthAdjust="spacingAndGlyphs">hrs</text>
<rect x="15.9" y="158.5" width="198.6" height="7.5" fill="#ffffff"/>
<rect x="15.9" y="166.0" width="198.6" height="17.6" fill="#ffffff"/>
<rect x="15.9" y="183.6" width="198.6" height="22.2" fill="#14a24a"/>
<rect x="15.9" y="205.8" width="198.6" height="18.8" fill="#ffff00"/>
<rect x="15.9" y="224.6" width="198.6" height="21.6" fill="#f7934a"/>
<rect x="15.9" y="246.2" width="198.6" height="21.6" fill="#fb0d0d"/>
<rect x="15.9" y="158.5" width="198.6" height="109.3" fill="none" stroke="#9a9a9a" stroke-width="0.9"/>
<line x1="15.9" y1="166" x2="214.5" y2="166" stroke="#e0e0e0" stroke-width="0.8"/>
<line x1="61.7" y1="166" x2="61.7" y2="267.5" stroke="#8a8a8a" stroke-width="0.8" opacity="0.6"/>
<line x1="155.0" y1="158.5" x2="155.0" y2="267.5" stroke="#6a6a6a" stroke-width="0.8" opacity="0.7"/>
<text x="65.2" y="164.8" font-size="6.8" font-weight="bold" fill="#151515" text-anchor="start" letter-spacing="0.00" textLength="40.6" lengthAdjust="spacingAndGlyphs">kalar kodu</text>
<text x="171.8" y="164.5" font-size="7" font-weight="bold" fill="#151515" text-anchor="start" textLength="25.5" lengthAdjust="spacingAndGlyphs">theevratha</text>
<text x="27.1" y="181.6" font-size="6.8" font-weight="bold" fill="#151515" text-anchor="start" letter-spacing="0.00" textLength="21.3" lengthAdjust="spacingAndGlyphs">vellla</text>
<text x="84.3" y="182.4" font-size="6.8" font-weight="bold" fill="#151515" text-anchor="start" textLength="47.6" lengthAdjust="spacingAndGlyphs">munnariyipp illa</text>
<text x="173.5" y="182.4" font-size="6.6" font-weight="bold" fill="#151515" text-anchor="start" textLength="20.5" lengthAdjust="spacingAndGlyphs">ma illa</text>
<text x="32.1" y="204.6" font-size="6.8" font-weight="bold" fill="#151515" text-anchor="start" textLength="12.5" lengthAdjust="spacingAndGlyphs">paca</text>
<text x="84.3" y="204.5" font-size="6.8" font-weight="bold" fill="#151515" text-anchor="start" textLength="47.6" lengthAdjust="spacingAndGlyphs">munnariyipp illa</text>
<text x="160.0" y="204.5" font-size="6.8" font-weight="bold" fill="#151515" text-anchor="start" textLength="47.5" lengthAdjust="spacingAndGlyphs">neriya idatharam</text>
<text x="29.5" y="223.3" font-size="6.8" font-weight="bold" fill="#151515" text-anchor="start" textLength="18.3" lengthAdjust="spacingAndGlyphs">manja</text>
<text x="66.9" y="216.8" font-size="6.4" font-weight="bold" fill="#151515" text-anchor="start" textLength="78.5" lengthAdjust="spacingAndGlyphs">nireekshikkuka munnariyipp</text>
<text x="69.7" y="223.3" font-size="6.4" font-weight="bold" fill="#151515" text-anchor="start" letter-spacing="0.00" textLength="75.7" lengthAdjust="spacingAndGlyphs">puthukkikondirikkuka :</text>
<text x="164.0" y="223.2" font-size="6.6" font-weight="bold" fill="#151515" text-anchor="start" textLength="39.6" lengthAdjust="spacingAndGlyphs">sakthamaya ma</text>
<text x="26.4" y="245.2" font-size="6.8" font-weight="bold" fill="#151515" text-anchor="start" textLength="21.4" lengthAdjust="spacingAndGlyphs">orange</text>
<text x="80.6" y="237.8" font-size="6.4" font-weight="bold" fill="#151515" text-anchor="start" textLength="52.9" lengthAdjust="spacingAndGlyphs">jagratha palikkuka</text>
<text x="81.5" y="245.3" font-size="6.4" font-weight="bold" fill="#151515" text-anchor="start" textLength="53.9" lengthAdjust="spacingAndGlyphs">thayyaredukkuka :</text>
<text x="162.8" y="231.4" font-size="6.4" font-weight="bold" fill="#151515" text-anchor="start" textLength="40.8" lengthAdjust="spacingAndGlyphs">sakthamayatho</text>
<text x="161.7" y="237.8" font-size="6.4" font-weight="bold" fill="#151515" text-anchor="start" textLength="44.3" lengthAdjust="spacingAndGlyphs">athisakthamaya</text>
<text x="164.6" y="244.2" font-size="6.4" font-weight="bold" fill="#151515" text-anchor="start" textLength="37.9" lengthAdjust="spacingAndGlyphs">tho aya mazha</text>
<text x="27.7" y="266.2" font-size="6.8" font-weight="bold" fill="#6e0808" text-anchor="start" textLength="16.4" lengthAdjust="spacingAndGlyphs">chuvap</text>
<text x="94.3" y="259.8" font-size="6.4" font-weight="bold" fill="#6e0808" text-anchor="start" textLength="31.0" lengthAdjust="spacingAndGlyphs">munnariyipp</text>
<text x="84.3" y="266.0" font-size="6.4" font-weight="bold" fill="#6e0808" text-anchor="start" textLength="45.6" lengthAdjust="spacingAndGlyphs">nadapadikal edukkuka</text>
<text x="171.6" y="253.0" font-size="6.4" font-weight="bold" fill="#6e0808" text-anchor="start" textLength="23.3" lengthAdjust="spacingAndGlyphs">theevramo</text>
<text x="162.8" y="259.4" font-size="6.4" font-weight="bold" fill="#6e0808" text-anchor="start" textLength="40.8" lengthAdjust="spacingAndGlyphs">athitheevramo aya</text>
<text x="172.2" y="265.6" font-size="6.4" font-weight="bold" fill="#6e0808" text-anchor="start" textLength="24.4" lengthAdjust="spacingAndGlyphs">aya mazha</text>
<rect x="14.1" y="291" width="204.4" height="65.5" fill="#ffffff" stroke="#3a3a3a" stroke-width="1"/>
<line x1="14.1" y1="291.3" x2="218.5" y2="291.3" stroke="#3a3a3a" stroke-width="1.6"/>
<line x1="14.1" y1="301.8" x2="218.5" y2="301.8" stroke="#555" stroke-width="0.9"/>
<line x1="14.1" y1="312.5" x2="218.5" y2="312.5" stroke="#555" stroke-width="0.9"/>
<line x1="14.1" y1="323.5" x2="218.5" y2="323.5" stroke="#555" stroke-width="0.9"/>
<line x1="14.1" y1="334.3" x2="218.5" y2="334.3" stroke="#555" stroke-width="0.9"/>
<line x1="14.1" y1="345.5" x2="218.5" y2="345.5" stroke="#555" stroke-width="0.9"/>
<line x1="144.5" y1="301.9" x2="144.5" y2="356.5" stroke="#555" stroke-width="0.9"/>
<text x="74.0" y="299.4" font-size="9.2" font-weight="bold" fill="#1a1a1a" text-anchor="start" textLength="80.4" lengthAdjust="spacingAndGlyphs">mazhayude theevratha</text>
<text x="56.0" y="310.9" font-size="9.2" font-weight="normal" fill="#2a2a2a" text-anchor="start" textLength="44.0" lengthAdjust="spacingAndGlyphs">chattal mazha</text>
<text x="52.0" y="321.5" font-size="9.2" font-weight="normal" fill="#2a2a2a" text-anchor="start" textLength="52.9" lengthAdjust="spacingAndGlyphs">mithamaya mazha</text>
<text x="47.8" y="332.5" font-size="9.2" font-weight="normal" fill="#2a2a2a" text-anchor="start" textLength="60.5" lengthAdjust="spacingAndGlyphs">sakthamaya mazha</text>
<text x="34.4" y="343.5" font-size="9.2" font-weight="normal" fill="#2a2a2a" text-anchor="start" textLength="88.0" lengthAdjust="spacingAndGlyphs">athi sakthamaya mazha</text>
<text x="35.8" y="354.5" font-size="9.2" font-weight="normal" fill="#2a2a2a" text-anchor="start" textLength="85.2" lengthAdjust="spacingAndGlyphs">athi theevramaya mazha</text>
<text x="161.0" y="310.4" font-size="6.6" font-weight="normal" fill="#222" text-anchor="start" letter-spacing="0.00" textLength="40.5" lengthAdjust="spacingAndGlyphs">2.5-15.5 mm</text>
<text x="159.0" y="321.4" font-size="6.6" font-weight="normal" fill="#222" text-anchor="start" letter-spacing="0.00" textLength="44.4" lengthAdjust="spacingAndGlyphs">15.6-64.4 mm</text>
<text x="157.1" y="332.0" font-size="6.6" font-weight="normal" fill="#222" text-anchor="start" letter-spacing="0.00" textLength="47.7" lengthAdjust="spacingAndGlyphs">64.5-115.5 mm</text>
<text x="155.8" y="343.3" font-size="6.6" font-weight="normal" fill="#222" text-anchor="start" letter-spacing="0.00" textLength="51.0" lengthAdjust="spacingAndGlyphs">115.6-204.4 mm</text>
<text x="164.4" y="353.9" font-size="6.6" font-weight="normal" fill="#222" text-anchor="start" letter-spacing="0.00" textLength="33.7" lengthAdjust="spacingAndGlyphs">>204.5mm</text>
<g id="ksdma">
<rect x="53" y="416.5" width="108" height="74" fill="#fffefe"/>
<circle cx="107.9" cy="454.7" r="27.2" fill="#ffffff" stroke="#d83a3a" stroke-width="0.7"/>
<circle cx="107.9" cy="454.7" r="22.9" fill="none" stroke="#d42229" stroke-width="6.4"/>
<circle cx="107.9" cy="454.7" r="20.6" fill="none" stroke="#f6c8c8" stroke-width="0.4"/>
<circle cx="107.9" cy="454.7" r="19.4" fill="#ffffff" stroke="#d42229" stroke-width="0.6"/>
<path id="ringTop" d="M85.2,460.2 A23.4,23.4 0 1 1 130.6,460.2" fill="none"/>
<path id="ringBot" d="M85.4,467.8 A25.4,25.4 0 0 0 130.4,467.8" fill="none"/>
<text font-size="3.4" font-weight="bold" fill="#ffe0e0" letter-spacing="0.45"><textPath href="#ringTop">DISASTER MANAGEMENT AUTHORITY</textPath></text>
<text font-size="3.3" font-weight="bold" fill="#ffe0e0" letter-spacing="0.9"><textPath href="#ringBot" startOffset="18%">STATE • KERALA •</textPath></text>
<path d="M97.8,439.4 C94.6,443.6 93.4,449.4 93.8,455 C94.2,459.6 95,463.4 96,466.4 C96.4,462.6 95.8,458.6 95.8,454.6 C95.8,449.6 96.6,444.4 97.8,439.4 Z" fill="#d42229"/>
<path d="M120.2,439.6 C123.4,443.8 124.8,449.4 124.6,455 C124.4,459.6 123.2,463.2 121.8,465.8 C121.6,462 122.2,458.2 122.2,454.4 C122.2,449.4 121.4,444.4 120.2,439.6 Z" fill="#d42229"/>
<path d="M98.2,440.2 C97,446 96.8,451.4 98.6,456.6 C100.2,461 102.6,464.6 104.4,468.4 M119.4,440.2 C120.4,446 120.6,451.4 118.6,456.6 C117,461 114.6,464.6 112.8,468.4 M98.8,439.6 C99.8,438.8 101,439 101.4,440.2 M118.8,439.6 C117.8,438.8 116.6,439 116.2,440.2 M101.2,447 C100.6,451 101.6,455 104,458.4 M116.6,447 C117.2,451 116.2,455 113.8,458.4" fill="none" stroke="#8a9a8a" stroke-width="0.5"/>
<path d="M99.8,443.2 C101.2,443.2 102.6,444.2 103.8,445.4 C105.2,446.6 106.4,447.4 107.4,449 C108.6,450.8 109.2,452.4 110.2,454.4 C111,456.2 112.4,457.6 112.8,459.6 C113.2,461.6 113.2,463.8 113.2,466.4 C111.6,465.2 110.6,463.4 109.6,461.6 C108.4,459.4 107.2,457.4 105.8,455.4 C104.4,453.2 103,451.2 102,448.8 C101,446.8 100.2,445 99.8,443.2 Z" fill="#2e9a3c"/>
<g fill="#17174a"><circle cx="107.9" cy="425.2" r="1.35"/><circle cx="115.0" cy="426.1" r="1.35"/><circle cx="121.6" cy="428.6" r="1.35"/><circle cx="127.5" cy="432.6" r="1.35"/><circle cx="132.2" cy="437.9" r="1.35"/><circle cx="135.5" cy="444.2" r="1.35"/><circle cx="137.2" cy="451.1" r="1.35"/><circle cx="137.2" cy="458.3" r="1.35"/><circle cx="135.5" cy="465.2" r="1.35"/><circle cx="132.2" cy="471.5" r="1.35"/><circle cx="127.5" cy="476.8" r="1.35"/><circle cx="121.6" cy="480.8" r="1.35"/><circle cx="115.0" cy="483.3" r="1.35"/><circle cx="107.9" cy="484.2" r="1.35"/><circle cx="100.8" cy="483.3" r="1.35"/><circle cx="94.2" cy="480.8" r="1.35"/><circle cx="88.3" cy="476.8" r="1.35"/><circle cx="83.6" cy="471.5" r="1.35"/><circle cx="80.3" cy="465.2" r="1.35"/><circle cx="78.6" cy="458.3" r="1.35"/><circle cx="78.6" cy="451.1" r="1.35"/><circle cx="80.3" cy="444.2" r="1.35"/><circle cx="83.6" cy="437.9" r="1.35"/><circle cx="88.3" cy="432.6" r="1.35"/><circle cx="94.2" cy="428.6" r="1.35"/><circle cx="100.8" cy="426.1" r="1.35"/></g>
</g>
<text x="43.0" y="505.5" font-size="5.9" font-weight="bold" fill="#1e1e1e" text-anchor="start" textLength="17.0" lengthAdjust="spacingAndGlyphs">kerala</text>
<text x="66.0" y="505.5" font-size="5.9" font-weight="bold" fill="#1e1e1e" text-anchor="start" textLength="29.5" lengthAdjust="spacingAndGlyphs">samsthana</text>
<text x="105.5" y="505.5" font-size="5.9" font-weight="bold" fill="#1e1e1e" text-anchor="start" textLength="18.0" lengthAdjust="spacingAndGlyphs">durantha</text>
<text x="133.0" y="505.5" font-size="5.9" font-weight="bold" fill="#1e1e1e" text-anchor="start" letter-spacing="0.00" textLength="28.0" lengthAdjust="spacingAndGlyphs">nivarana</text>
<text x="168.9" y="505.5" font-size="5.9" font-weight="bold" fill="#1e1e1e" text-anchor="start" letter-spacing="0.53" textLength="32.8" lengthAdjust="spacingAndGlyphs">athoritti</text>
<text x="91.4" y="513.2" font-size="5.9" font-weight="bold" fill="#1e1e1e" text-anchor="start" letter-spacing="0.01" textLength="11.1" lengthAdjust="spacingAndGlyphs">(ke</text>
<text x="104.7" y="513.2" font-size="5.9" font-weight="bold" fill="#1e1e1e" text-anchor="start" letter-spacing="2.62" textLength="15.9" lengthAdjust="spacingAndGlyphs">.es</text>
<text x="124.8" y="513.2" font-size="5.9" font-weight="bold" fill="#1e1e1e" text-anchor="start" letter-spacing="0.08" textLength="9.1" lengthAdjust="spacingAndGlyphs">.di</text>
<text x="137.0" y="513.2" font-size="5.9" font-weight="bold" fill="#1e1e1e" text-anchor="start" letter-spacing="0.00" textLength="11.2" lengthAdjust="spacingAndGlyphs">.em</text>
<text x="151.4" y="513.2" font-size="5.9" font-weight="bold" fill="#1e1e1e" text-anchor="start" letter-spacing="0.91" textLength="13.8" lengthAdjust="spacingAndGlyphs">.e).</text>
<text x="42.8" y="520.5" font-size="5.9" font-weight="bold" fill="#1e1e1e" text-anchor="start" letter-spacing="0.85" textLength="22.6" lengthAdjust="spacingAndGlyphs">vikas</text>
<text x="73.0" y="520.5" font-size="5.9" font-weight="bold" fill="#1e1e1e" text-anchor="start" textLength="15.5" lengthAdjust="spacingAndGlyphs">bhavan</text>
<text x="93.4" y="520.5" font-size="5.9" font-weight="bold" fill="#1e1e1e" text-anchor="start" letter-spacing="1.40" textLength="20.4" lengthAdjust="spacingAndGlyphs">post</text>
<text x="120.0" y="520.5" font-size="5.9" font-weight="bold" fill="#1e1e1e" text-anchor="start" letter-spacing="1.07" textLength="25.8" lengthAdjust="spacingAndGlyphs">office</text>
<text x="149.6" y="520.5" font-size="5.9" font-weight="bold" fill="#1e1e1e" text-anchor="start" textLength="1.5" lengthAdjust="spacingAndGlyphs">,</text>
<text x="153.3" y="520.5" font-size="5.9" font-weight="bold" fill="#1e1e1e" text-anchor="start" textLength="46.8" lengthAdjust="spacingAndGlyphs">thiruvananthapuram</text>
<text x="68.1" y="528.6" font-size="5.9" font-weight="bold" fill="#1e1e1e" text-anchor="start" letter-spacing="0.83" textLength="35.6" lengthAdjust="spacingAndGlyphs">teliphon</text>
<text x="111.9" y="528.6" font-size="5.9" font-weight="bold" fill="#1e1e1e" text-anchor="start" letter-spacing="2.98" textLength="24.3" lengthAdjust="spacingAndGlyphs">faks</text>
<text x="154.5" y="528.6" font-size="5.9" font-weight="bold" fill="#1e1e1e" text-anchor="start" textLength="1.2" lengthAdjust="spacingAndGlyphs">:</text>
</svg>
</body></html>
